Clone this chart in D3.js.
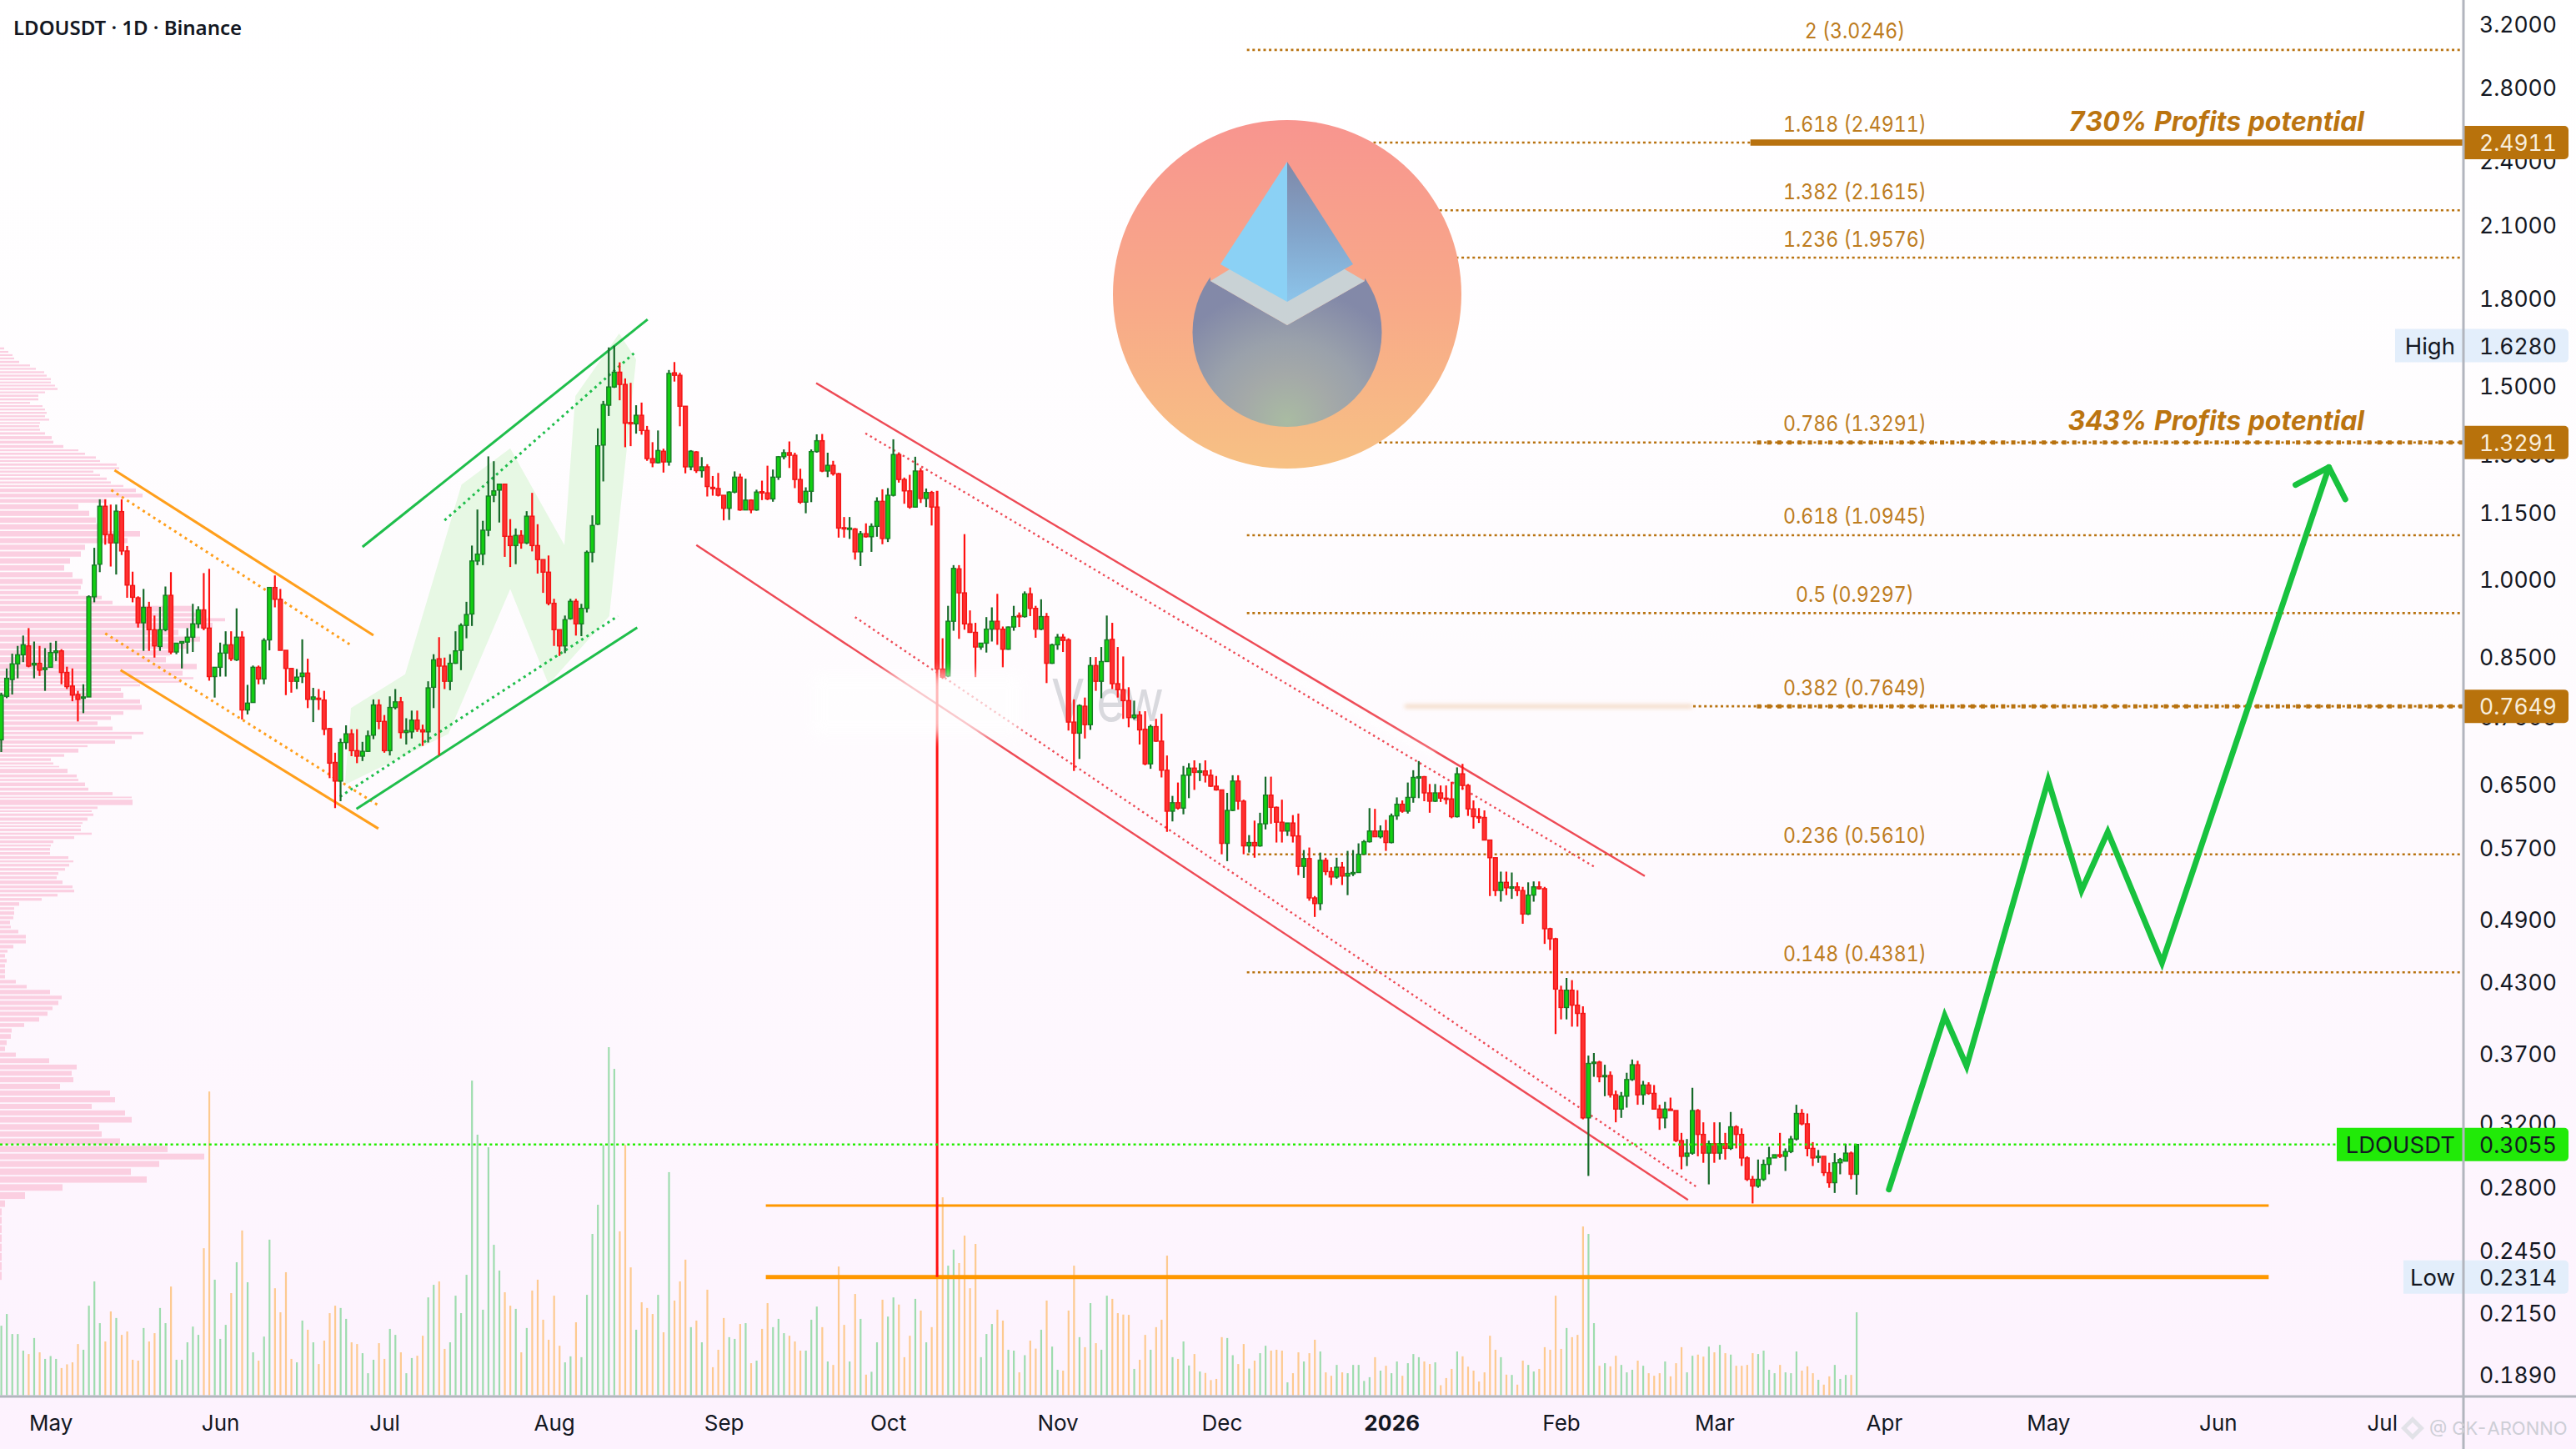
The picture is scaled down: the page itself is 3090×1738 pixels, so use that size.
<!DOCTYPE html>
<html><head><meta charset="utf-8">
<script src="https://cdn.jsdelivr.net/npm/d3@7"></script>
<style>html,body{margin:0;padding:0;background:#fff}svg{display:block}text{font-family:Inter,Roboto,sans-serif;font-variant-numeric:tabular-nums}</style>
</head><body><div id="chart"></div>
<script>
const symbolTitle = "LDOUSDT · 1D · Binance";
const firstDay = new Date(2025,3,22);
const opens = [.713,.781,.809,.836,.852,.868,.834,.837,.826,.830,
.856,.859,.821,.798,.784,.778,.780,.962,1.030,1.163,
1.096,1.077,1.150,1.059,.985,.960,.911,.941,.898,.867,
.898,.965,.857,.873,.875,.884,.909,.936,.901,.814,
.830,.855,.870,.843,.884,.759,.771,.830,.810,.879,
.981,.957,.860,.828,.806,.814,.820,.776,.778,.775,
.730,.680,.654,.709,.722,.697,.689,.696,.720,.767,
.741,.697,.763,.772,.724,.725,.743,.728,.725,.796,
.845,.832,.806,.837,.860,.906,.928,1.037,1.052,1.106,
1.190,1.203,1.218,1.092,1.071,1.094,1.077,1.139,1.071,1.040,
1.013,.949,.898,.868,.919,.953,.909,.939,1.056,1.120,
1.322,1.437,1.493,1.540,1.501,1.386,1.382,1.407,1.363,1.285,
1.274,1.305,1.276,1.538,1.530,1.434,1.263,1.303,1.253,1.263,
1.210,1.207,1.190,1.158,1.198,1.236,1.154,1.178,1.154,1.199,
1.196,1.181,1.236,1.290,1.301,1.294,1.230,1.173,1.200,1.304,
1.334,1.252,1.267,1.245,1.112,1.109,1.109,1.057,1.098,1.091,
1.115,1.175,1.087,1.190,1.296,1.230,1.201,1.161,1.252,1.182,
1.197,1.161,.827,.815,.914,1.020,.970,.909,.893,.866,
.873,.899,.914,.899,.862,.903,.925,.923,.968,.939,
.899,.923,.837,.870,.884,.879,.740,.723,.765,.736,
.833,.806,.840,.880,.802,.792,.774,.747,.751,.729,
.678,.733,.711,.669,.614,.625,.618,.662,.672,.666,
.668,.662,.647,.642,.574,.615,.654,.627,.571,.575,
.571,.598,.635,.619,.600,.589,.599,.583,.547,.556,
.512,.506,.554,.541,.535,.546,.536,.540,.540,.561,
.576,.589,.582,.589,.575,.608,.623,.614,.632,.659,
.660,.638,.627,.638,.631,.630,.607,.664,.648,.617,
.607,.606,.578,.557,.520,.529,.523,.524,.520,.495,
.515,.524,.522,.480,.470,.422,.407,.422,.409,.402,
.323,.362,.363,.352,.353,.339,.329,.338,.350,.361,
.339,.346,.340,.329,.323,.329,.328,.308,.298,.300,
.328,.312,.300,.306,.300,.306,.303,.317,.312,.297,
.284,.280,.284,.293,.297,.299,.298,.301,.309,.326,
.319,.303,.298,.298,.288,.282,.294,.295,.300,.287];
const highs = [.787,.828,.854,.868,.887,.901,.876,.868,.864,.874,
.877,.862,.831,.828,.790,.801,.965,1.066,1.180,1.180,
1.167,1.167,1.180,1.070,1.014,.963,.978,.952,.925,.942,
.983,1.013,.873,.876,.901,.948,.943,1.011,1.020,.830,
.874,.895,.895,.939,.895,.800,.833,.833,.882,.981,
1.006,.978,.860,.828,.827,.880,.845,.795,.793,.790,
.731,.694,.715,.735,.729,.729,.710,.727,.776,.776,
.751,.781,.793,.780,.746,.758,.758,.736,.806,.853,
.884,.847,.853,.895,.910,.952,1.071,1.155,1.128,1.291,
1.278,1.219,1.219,1.132,1.110,1.106,1.151,1.196,1.120,1.040,
1.049,.958,.898,.925,.958,.958,.948,1.060,1.141,1.369,
1.450,1.622,1.628,1.572,1.520,1.506,1.437,1.445,1.376,1.330,
1.363,1.312,1.547,1.573,1.538,1.434,1.308,1.305,1.289,1.270,
1.239,1.247,1.190,1.200,1.251,1.245,1.232,1.180,1.204,1.227,
1.266,1.256,1.292,1.310,1.332,1.301,1.258,1.210,1.310,1.352,
1.353,1.301,1.279,1.247,1.137,1.137,1.111,1.104,1.122,1.122,
1.185,1.205,1.208,1.338,1.299,1.235,1.242,1.290,1.260,1.207,
1.201,1.201,.882,.944,1.028,1.028,1.097,.935,.911,.873,
.922,.941,.968,.904,.904,.944,.931,.973,.981,.944,
.957,.930,.872,.890,.890,.882,.776,.768,.779,.848,
.848,.866,.925,.911,.866,.849,.796,.774,.757,.757,
.736,.745,.753,.690,.634,.652,.675,.679,.683,.679,
.683,.670,.661,.642,.638,.662,.662,.629,.584,.602,
.612,.660,.660,.620,.629,.599,.609,.611,.566,.569,
.514,.563,.557,.546,.557,.552,.565,.566,.574,.578,
.618,.617,.596,.603,.611,.632,.628,.652,.669,.682,
.661,.650,.650,.648,.648,.653,.673,.678,.650,.628,
.618,.615,.578,.557,.541,.541,.540,.529,.524,.529,
.530,.530,.524,.481,.471,.426,.433,.431,.422,.408,
.368,.370,.364,.361,.356,.342,.341,.355,.365,.364,
.349,.348,.346,.332,.334,.337,.328,.313,.309,.344,
.329,.320,.308,.320,.320,.313,.327,.318,.316,.298,
.286,.296,.296,.304,.299,.313,.303,.311,.332,.329,
.326,.307,.302,.298,.294,.300,.297,.306,.301,.3055];
const lows = [.695,.778,.784,.811,.839,.830,.811,.815,.790,.830,
.841,.801,.793,.773,.741,.754,.780,.951,1.013,1.073,
1.025,1.008,1.050,.960,.951,.902,.859,.859,.847,.859,
.895,.853,.853,.828,.854,.857,.901,.897,.807,.779,
.814,.814,.841,.841,.744,.752,.771,.801,.801,.860,
.941,.860,.783,.787,.793,.803,.762,.740,.759,.720,
.658,.618,.627,.699,.689,.679,.682,.695,.714,.729,
.694,.690,.760,.715,.706,.715,.725,.704,.709,.762,
.690,.793,.791,.836,.825,.882,.905,1.028,1.028,1.092,
1.173,1.124,1.046,1.024,1.030,1.064,1.074,1.058,1.010,.970,
.945,.868,.850,.855,.917,.887,.886,.931,1.034,1.118,
1.225,1.405,1.490,1.452,1.316,1.319,1.354,1.351,1.279,1.262,
1.272,1.248,1.266,1.510,1.375,1.246,1.254,1.247,1.235,1.187,
1.189,1.187,1.129,1.130,1.195,1.152,1.154,1.146,1.152,1.178,
1.178,1.174,1.229,1.283,1.260,1.208,1.169,1.146,1.173,1.301,
1.249,1.236,1.240,1.089,1.089,1.086,1.040,1.026,1.089,1.057,
1.091,1.074,1.079,1.187,1.222,1.169,1.157,1.160,1.171,1.161,
1.117,.2314,.810,.813,.896,.881,.898,.892,.813,.861,
.856,.876,.870,.830,.861,.896,.903,.921,.924,.883,
.897,.803,.836,.861,.857,.727,.668,.685,.715,.728,
.790,.778,.840,.793,.779,.745,.732,.744,.706,.676,
.671,.710,.659,.588,.601,.616,.610,.631,.642,.654,
.652,.646,.641,.561,.553,.614,.616,.561,.563,.557,
.570,.591,.598,.575,.575,.583,.575,.537,.534,.509,
.492,.499,.537,.526,.533,.526,.515,.536,.540,.561,
.575,.582,.580,.565,.574,.603,.612,.611,.625,.631,
.627,.612,.626,.626,.623,.605,.606,.642,.608,.592,
.599,.578,.514,.514,.508,.515,.511,.514,.485,.494,
.508,.521,.465,.459,.385,.397,.397,.391,.391,.322,
.286,.352,.348,.338,.337,.320,.323,.330,.349,.332,
.332,.339,.329,.315,.316,.328,.307,.290,.292,.299,
.298,.294,.281,.294,.296,.296,.302,.303,.292,.283,
.270,.279,.283,.287,.297,.297,.289,.300,.308,.318,
.298,.292,.294,.286,.279,.276,.287,.295,.284,.275];
const closes = [.783,.811,.836,.852,.870,.832,.837,.825,.829,.856,
.859,.821,.797,.783,.776,.780,.962,1.028,1.163,1.096,
1.077,1.151,1.059,.986,.961,.911,.941,.898,.868,.898,
.965,.857,.873,.876,.884,.909,.936,.901,.814,.830,
.855,.870,.845,.884,.759,.770,.830,.810,.878,.981,
.957,.860,.828,.806,.813,.820,.776,.780,.776,.729,
.679,.654,.709,.722,.697,.689,.696,.719,.767,.741,
.697,.763,.772,.724,.727,.743,.729,.725,.795,.843,
.832,.806,.837,.859,.906,.927,1.037,1.052,1.106,1.188,
1.201,1.218,1.092,1.071,1.094,1.077,1.139,1.071,1.040,1.013,
.949,.898,.868,.917,.953,.909,.939,1.056,1.117,1.320,
1.439,1.493,1.540,1.501,1.384,1.382,1.407,1.363,1.285,1.274,
1.307,1.276,1.536,1.530,1.434,1.263,1.305,1.253,1.263,1.212,
1.207,1.190,1.158,1.198,1.236,1.154,1.178,1.154,1.198,1.196,
1.181,1.236,1.290,1.301,1.294,1.230,1.173,1.200,1.304,1.334,
1.252,1.267,1.245,1.111,1.110,1.111,1.057,1.098,1.091,1.115,
1.175,1.087,1.190,1.296,1.230,1.201,1.161,1.252,1.182,1.197,
1.161,.827,.813,.914,1.021,.970,.909,.893,.866,.873,
.899,.914,.899,.862,.903,.923,.923,.968,.939,.899,
.923,.837,.870,.884,.878,.740,.723,.766,.736,.833,
.806,.840,.879,.802,.792,.774,.747,.751,.728,.678,
.733,.711,.669,.614,.625,.618,.662,.672,.666,.668,
.662,.647,.642,.574,.615,.654,.627,.571,.575,.571,
.598,.635,.619,.600,.589,.599,.583,.547,.556,.512,
.506,.554,.541,.535,.546,.536,.539,.540,.561,.576,
.589,.582,.589,.575,.608,.623,.614,.632,.659,.660,
.638,.627,.638,.631,.630,.607,.664,.648,.617,.607,
.606,.578,.557,.520,.529,.523,.524,.520,.495,.515,
.524,.522,.480,.470,.423,.407,.422,.409,.402,.323,
.362,.363,.352,.353,.339,.329,.338,.350,.361,.339,
.346,.340,.329,.323,.329,.328,.308,.298,.300,.328,
.312,.300,.306,.300,.306,.303,.317,.312,.297,.284,
.280,.284,.293,.297,.299,.298,.301,.309,.326,.319,
.303,.297,.298,.288,.282,.294,.296,.300,.287,.3055];
const volumes = [24.3,28.4,21.4,21.4,15.6,14.4,20,15,12.7,13.7,
12.7,9.5,10.8,11.5,17.9,15.9,31.3,39.8,25.2,18.8,
29.3,27,21.1,22.3,12.4,12.1,23.5,18.8,21.7,30.5,
25.2,38,12.4,12.4,18.5,24,21.1,51.4,106.2,40.4,
19.7,24.6,35.7,46.5,57.6,39.5,15,12.1,20.5,54.4,
37.4,29,43,12.7,11.5,26.1,22.9,18.5,10.9,19.1,
28.7,31.3,30.5,26.7,18.5,17.9,14.7,7.7,12.4,18.2,
12.7,23.2,21.1,15,7.7,13,13.8,20.8,34.2,38.6,
39.8,16.2,18.5,34.8,28.7,42.1,110,91.1,29.9,86.7,
52.6,43.6,36,31.3,30.2,15,23.5,36.6,40.4,26.4,
19.4,34.8,17.3,11.5,13.6,25.5,13.3,35.1,56.4,66.6,
87.5,121.7,114.1,57.3,87.5,44.7,22.9,32.5,30.5,28.4,
35.1,22,78,33.1,39.8,47.4,23.8,26.1,18.5,36.9,
9.8,15.9,27,20.3,19.7,24.9,25.2,11.2,12.1,23.2,
32.2,23.8,26.7,21.7,20.8,18.8,15.6,15.6,26.4,31,
23.8,11.8,10.6,45,24.6,11.8,35.4,26.7,7.2,8.2,
18.5,33.4,27.5,34.2,31.7,13.3,20.8,33.7,29.6,18.5,
23.8,45,69.2,45.3,50.9,46.2,55.8,37.4,52.9,13.3,
21.4,24.9,29.9,26.1,15.9,15.6,8,14,19.1,16.3,
22.9,33.1,17,8.9,8.6,29.6,45.3,20.3,16.8,32.2,
18.2,15.9,34.8,33.7,28.7,28.2,28.1,9.2,12.4,21.1,
15.9,23.8,26.4,48.8,13.3,12.7,18.8,10.4,14.4,8.3,
7.8,5.3,5.7,20.3,20,14,10.9,17.9,9.3,12.1,
14.7,17.3,15.6,15.9,15.6,4.5,7.7,15,11.8,14.7,
19.4,15.3,8,6.8,10.6,8,7.7,10.6,10.6,5,
6.3,13.3,8.6,10.3,7.7,11.8,6.8,11.2,14.4,13.3,
11.8,10.9,11.5,3.5,6,9.2,15.3,13.6,10,8.6,
4.8,8,20.8,15.9,13.3,7.2,7.1,3.7,12.1,10.6,
8.3,9.2,16.8,15.9,34.8,16.2,23.5,20.3,21.1,59,
56.4,25.2,10.3,11.2,10.1,13.8,10.6,8,8.9,12.1,
10.3,7.7,6.8,7.7,11.8,6.6,11.2,16.8,8,13.8,
14.2,13.5,17,15,17.6,14.7,14.2,10.3,10.3,10.6,
14.7,14.4,15.6,8.9,7.7,10.6,8,7.7,15.3,8.6,
10.1,7.7,5.4,3.7,6.6,10.6,5.7,7.1,7.1,29];
const profilePrices = [1.622,1.610,1.599,1.588,1.577,1.565,1.554,1.543,1.532,1.521,1.510,1.500,1.490,1.479,1.469,1.458,1.447,1.437,1.427,1.417,1.407,1.397,1.387,1.378,1.368,1.358,1.347,1.334,1.322,1.310,1.301,1.291,1.281,1.272,1.262,1.253,1.244,1.235,1.225,1.216,1.207,1.194,1.181,1.168,1.152,1.136,1.120,1.104,1.088,1.073,1.058,1.043,1.028,1.013,.999,.985,.974,.964,.954,.944,.930,.920,.911,.898,.885,.873,.860,.848,.836,.824,.813,.807,.801,.795,.787,.776,.767,.757,.749,.741,.733,.725,.719,.712,.705,.700,.692,.686,.680,.675,.671,.663,.657,.652,.645,.639,.633,.629,.620,.615,.611,.606,.600,.596,.592,.587,
.5826,.5775,.5725,.5685,.5636,.5587,.5538,.5499,.5451,.5404,.5357,.5310,.5255,.5209,.5164,.5119,.5074,.5021,.4978,.4926,.4882,.4830,.4789,.4739,.4689,.4640,.4592,.4552,.4505,.4458,.4411,.4358,.4312,.4267,.4223,.4172,.4128,.4078,.4035,.3987,.3939,.3895,.3850,.3800,.3750,.3703,.3659,.3611,.3564,.3517,.3469,.3420,.3373,.3326,.3281,.3236,.3188,.3140,.3094,.3046,.2997,.2951,.2905,.2857,.2811,.2764,.2717,.2672,.2625,.2580,.2530,.2482,.2434,.2387,.2340];
const profileVolumes = [5,10,15,17,23,36,43,53,56,61,61,66,69,54,46,46,36,51,54,56,54,59,48,47,48,54,62,64,76,94,102,115,120,140,143,112,120,128,133,148,163,171,128,94,107,115,122,168,153,102,97,84,77,87,99,97,94,122,135,230,245,270,255,214,240,224,204,199,236,219,232,217,168,145,148,168,170,148,133,117,135,172,158,138,105,94,77,61,64,71,81,92,94,102,106,135,158,159,117,110,112,105,99,97,97,110,
89,64,61,60,60,82,88,83,78,70,68,75,87,89,69,50,23,17,17,16,12,13,22,31,31,16,9,6,8,6,6,6,19,32,60,74,70,63,57,47,29,14,13,8,6,19,59,92,86,88,72,132,138,110,150,158,119,122,144,201,245,191,157,176,75,30,6,2,2,2,2,2,2,2,2];
const priceTicks = [3.2,2.8,2.4,2.1,1.8,1.5,1.3,1.15,1,.85,.75,.65,.57,.49,.43,.37,.32,.28,.245,.215,.189];
const monthTicks = [[2025,4],[2025,5],[2025,6],[2025,7],[2025,8],[2025,9],[2025,10],[2025,11],[2026,0],[2026,1],[2026,2],[2026,3],[2026,4],[2026,5],[2026,6]];
const fibRatios = ["2","1.618","1.382","1.236","0.786","0.618","0.5","0.382","0.236","0.148"];
const fibPrices = [3.0246,2.4911,2.1615,1.9576,1.3291,1.0945,.9297,.7649,.5610,.4381];
const fibStartDay = 227.6, heavyStartDay = 320.8, solidStartDay = 319.6;
const lastPrice = .3055, highPrice = 1.6280, lowPrice = .2314;
const tagFibs = [2.4911,1.3291,.7649];
const profitNotes = [["730% Profits potential",2.4911],["343% Profits potential",1.3291]];
const supports = [[.2688,3],[.2314,5]];
const supportDays = [139.7,414.3];
const orangeChannel = [[[21,1.254],[68.3,.8876]],[[22.1,.825],[69.2,.592]]];
const orangeDotted  = [[[20.4,1.203],[64.4,.868]],[[19.3,.891],[69.1,.622]]];
const greenChannel  = [[[66.3,1.068],[118.4,1.720]],[[65.2,.617],[116.5,.902]]];
const greenDotted   = [[[81.3,1.129],[115.9,1.602]],[[62.2,.633],[113,.924]]];
const redChannel    = [[[149.2,1.505],[300.6,.536]],[[127.3,1.072],[308.5,.272]]];
const redDotted     = [[[158.2,1.355],[291.5,.546]],[[156.3,.922],[310.3,.279]]];
const greenZone = [[64.2,.762],[74.1,.818],[84.4,1.217],[93.3,1.313],[103.2,1.072],[105.2,1.465],[113.2,1.670],[116.3,1.582],[111.4,.924],[100.3,.801],[93.3,.978],[82,.722],[63.1,.649]];
const forecastPath = [[344.9,.278],[355.1,.400],[359.1,.360],[374,.655],[380.1,.520],[384.9,.588],[394.8,.447],[425.3,1.262]];
const forecastHead = [[419.2,1.216],[425.3,1.262],[428.3,1.180]];

const W=3090,H=1738,plotR=2955,plotB=1675;
const x=d3.scaleTime().domain([firstDay,new Date(2026,6,1)]).range([1.5,1.5+435*6.565]);
const xi=i=>x(firstDay)+i*6.565;
const xa=i=>xi(i-0.3);
const y=d3.scaleLog().domain([.1802,3.358]).range([plotB,0]);
const yV=d3.scaleLinear().domain([0,121.7]).range([1673.5,1256]);
const xP=d3.scaleLinear().domain([0,245]).range([0,245]);
const svg=d3.select("#chart").append("svg").attr("width",W).attr("height",H).attr("viewBox",`0 0 ${W} ${H}`);
const defs=svg.append("defs");
const lg=(id,stops,user)=>{const g=defs.append("linearGradient").attr("id",id);
  if(user) g.attr("gradientUnits","userSpaceOnUse").attr("x1",0).attr("x2",0).attr("y1",user[0]).attr("y2",user[1]);
  else g.attr("x1",0).attr("y1",0).attr("x2",0).attr("y2",1);
  stops.forEach(s=>g.append("stop").attr("offset",s[0]).attr("stop-color",s[1]));};
lg("bg",[[0,"#ffffff"],[.5,"#fefbfe"],[1,"#fdf2fe"]]);
lg("disc",[[0,"#f8958f"],[.55,"#f8aa88"],[1,"#f7c184"]],[144,562]);
lg("facet",[[0,"#7f88a8"],[.5,"#82a4ca"],[1,"#8cc4ea"]]);
const rg=defs.append("radialGradient").attr("id","drop").attr("gradientUnits","userSpaceOnUse").attr("cx",1544).attr("cy",505).attr("r",160);
[[0,"#a9bba2"],[.35,"#a4a9a8"],[.6,"#9aa1ab"],[1,"#8389a8"]].forEach(s=>rg.append("stop").attr("offset",s[0]).attr("stop-color",s[1]));
defs.append("filter").attr("id","blur8").attr("x","-30%").attr("y","-60%").attr("width","160%").attr("height","220%").append("feGaussianBlur").attr("stdDeviation",8);
defs.append("filter").attr("id","blur2").attr("filterUnits","userSpaceOnUse").attr("x",0).attr("y",0).attr("width",W).attr("height",H).append("feGaussianBlur").attr("stdDeviation",2.5);
defs.append("clipPath").attr("id","plot").append("rect").attr("width",plotR).attr("height",plotB);

svg.append("rect").attr("width",W).attr("height",H).attr("fill","url(#bg)");
const plot=svg.append("g").attr("clip-path","url(#plot)");

// volume profile
plot.append("g").selectAll("rect").data(profilePrices).join("rect")
 .attr("x",0).attr("width",(d,i)=>xP(profileVolumes[i]))
 .attr("y",(d,i)=>y(d))
 .attr("height",(d,i)=>{const n=profilePrices[i+1]||d*.98;return Math.max(1.5,(y(n)-y(d))-1.8);})
 .attr("fill","#fbcfe1");

// faint watermark
plot.append("text").attr("x",1261).attr("y",865).attr("font-size",70).attr("textLength",135).attr("lengthAdjust","spacingAndGlyphs").attr("fill","#d9d9de").text("View");

// volumes
const days=d3.range(opens.length);
plot.append("g").selectAll("rect").data(days).join("rect")
 .attr("x",i=>xi(i)-1).attr("width",2.2)
 .attr("y",i=>yV(volumes[i])).attr("height",i=>yV(0)-yV(volumes[i]))
 .attr("fill",i=>closes[i]>=opens[i]?"#9edcae":"#fdca90");

const ln=(g,pts,color,w,dash)=>g.append("line").attr("x1",xa(pts[0][0])).attr("y1",y(pts[0][1])).attr("x2",xa(pts[1][0])).attr("y2",y(pts[1][1])).attr("stroke",color).attr("stroke-width",w).attr("stroke-dasharray",dash||null);

// green zone
plot.append("path").attr("d",d3.line().x(d=>xa(d[0])).y(d=>y(d[1]))(greenZone)+"Z").attr("fill","#e7f8e4");

// fib lines
const FIB="#b8720f";
const fibG=plot.append("g");
fibPrices.forEach((p,i)=>{
  const yy=y(p);
  const x0=(p===.7649)?2031:xi(fibStartDay);
  fibG.append("line").attr("x1",x0).attr("x2",plotR).attr("y1",yy).attr("y2",yy).attr("stroke",FIB).attr("stroke-width",2.6).attr("stroke-dasharray","3 3.6");
  if(p===2.4911) fibG.append("line").attr("x1",xi(solidStartDay)).attr("x2",plotR).attr("y1",yy).attr("y2",yy).attr("stroke",FIB).attr("stroke-width",7.5);
  if(p===1.3291||p===.7649) fibG.append("line").attr("x1",xi(heavyStartDay)).attr("x2",plotR).attr("y1",yy).attr("y2",yy).attr("stroke",FIB).attr("stroke-width",5).attr("stroke-dasharray","5 7.2");
  const lab=fibG.append("text").attr("x",2225).attr("y",yy-23).attr("text-anchor","middle").attr("dominant-baseline","central").attr("font-size",26).attr("fill","#bd7c20").text(`${fibRatios[i]} (${p.toFixed(4)})`);
  lab.attr("textLength",lab.node().getComputedTextLength()*.89).attr("lengthAdjust","spacingAndGlyphs");
});
// smeared part of the .382 line
plot.append("line").attr("x1",1685).attr("x2",2030).attr("y1",y(.7649)).attr("y2",y(.7649)).attr("stroke","#e6ae78").attr("stroke-width",4).attr("opacity",.5).attr("filter","url(#blur2)");

// logo
const logo=svg.append("g");
logo.append("circle").attr("cx",1544).attr("cy",353).attr("r",209).attr("fill","url(#disc)");
logo.append("circle").attr("cx",1544).attr("cy",398.5).attr("r",113.5).attr("fill","url(#drop)");
logo.append("path").attr("d","M1452,337L1544,390L1637,337L1640,275L1448,275Z").attr("fill","url(#disc)");
logo.append("path").attr("d","M1452,337L1544,390L1637,337L1613,323L1475,323Z").attr("fill","#c9d2d5");
logo.append("path").attr("d","M1544,194L1464,317L1544,362Z").attr("fill","#8bd1f5");
logo.append("path").attr("d","M1544,194L1623,317L1544,362Z").attr("fill","url(#facet)");

// supports
supports.forEach(s=>plot.append("line").attr("x1",xi(supportDays[0])).attr("x2",xi(supportDays[1])).attr("y1",y(s[0])).attr("y2",y(s[0])).attr("stroke","#ff9800").attr("stroke-width",s[1]));

// channels
orangeChannel.forEach(l=>ln(plot,l,"#ff9f1c",3));
orangeDotted.forEach(l=>ln(plot,l,"#ff9f1c",3,"3 4.5"));
greenChannel.forEach(l=>ln(plot,l,"#1fbe4b",3));
greenDotted.forEach(l=>ln(plot,l,"#1fbe4b",3,"3 4.5"));
redChannel.forEach(l=>ln(plot,l,"#ee4a55",2.4));
redDotted.forEach(l=>ln(plot,l,"#ee4a55",2.4,"2.5 4"));

// candles
const candle=plot.append("g");
candle.selectAll("line").data(days).join("line")
 .attr("x1",i=>xi(i)).attr("x2",i=>xi(i)).attr("y1",i=>y(highs[i])).attr("y2",i=>y(lows[i]))
 .attr("stroke",i=>closes[i]>=opens[i]?"#176a2a":"#ff1010").attr("stroke-width",i=>lows[i]===lowPrice?3:2.2);
candle.selectAll("rect").data(days).join("rect")
 .attr("x",i=>xi(i)-2.4).attr("width",4.8)
 .attr("y",i=>y(Math.max(opens[i],closes[i])))
 .attr("height",i=>Math.max(1.6,y(Math.min(opens[i],closes[i]))-y(Math.max(opens[i],closes[i]))))
 .attr("fill",i=>closes[i]>=opens[i]?"#12cf12":"#ff3030")
 .attr("stroke",i=>closes[i]>=opens[i]?"#167d24":"#f21414").attr("stroke-width",1.4);

// price line
plot.append("line").attr("x1",0).attr("x2",2805).attr("y1",y(lastPrice)).attr("y2",y(lastPrice)).attr("stroke","#22ee00").attr("stroke-width",2.4).attr("stroke-dasharray","3 3.6");

// smeared patches
plot.append("rect").attr("x",975).attr("y",808).attr("width",250).attr("height",75).attr("fill","#fff").attr("opacity",.7).attr("filter","url(#blur8)");
plot.append("line").attr("x1",1550).attr("y1",812).attr("x2",1720).attr("y2",906).attr("stroke","#fff").attr("stroke-width",8).attr("opacity",.55).attr("filter","url(#blur2)");

// forecast arrow
const fl=d3.line().x(d=>xi(d[0])).y(d=>y(d[1]));
plot.append("path").attr("d",fl(forecastPath)).attr("fill","none").attr("stroke","#18c23e").attr("stroke-width",7).attr("stroke-linejoin","miter").attr("stroke-linecap","round");
plot.append("path").attr("d",fl(forecastHead)).attr("fill","none").attr("stroke","#18c23e").attr("stroke-width",7).attr("stroke-linejoin","round").attr("stroke-linecap","round");

// notes
profitNotes.forEach(n=>svg.append("text").attr("x",2836).attr("y",y(n[1])-26).attr("text-anchor","end").attr("dominant-baseline","central").attr("font-size",32).attr("font-weight",700).attr("font-style","italic").attr("fill","#bb7410").text(n[0]));

// title
svg.append("text").attr("x",16).attr("y",32).attr("dominant-baseline","central").attr("style","font-family:'Noto Sans',sans-serif").attr("font-size",24).attr("font-weight",600).attr("fill","#131722").text(symbolTitle);

// price axis
const yAxis=svg.append("g").attr("transform",`translate(${plotR},0)`).call(d3.axisRight(y).tickValues(priceTicks).tickFormat(d3.format(".4f")).tickSize(0));
yAxis.select(".domain").remove();
yAxis.selectAll("text").attr("x",112).attr("dy","0.4em").attr("text-anchor","end").attr("font-size",26.5).attr("fill","#131722").attr("font-family",null);

// x axis
const monthDates=monthTicks.map(m=>new Date(m[0],m[1],1));
const xAxis=svg.append("g").attr("transform",`translate(0,${plotB})`).call(d3.axisBottom(x).tickValues(monthDates).tickFormat(d=>d.getMonth()===0?d3.timeFormat("%Y")(d):d3.timeFormat("%b")(d)).tickSize(0));
xAxis.select(".domain").remove();
xAxis.selectAll("text").attr("y",31).attr("dy",0).attr("dominant-baseline","central").attr("font-size",26).attr("fill","#131722").attr("font-family",null).attr("font-weight",d=>d.getMonth()===0?700:400);

// tags
const tag=(x0,x1,py,fill,txt,col,label)=>{
  const yy=y(py),p=d3.path(),r=5,t=yy-20,b=yy+20;
  p.moveTo(x0,t);p.lineTo(x1-r,t);p.arcTo(x1,t,x1,t+r,r);p.lineTo(x1,b-r);p.arcTo(x1,b,x1-r,b,r);p.lineTo(x0,b);p.closePath();
  svg.append("path").attr("d",p.toString()).attr("fill",fill);
  svg.append("text").attr("x",3067).attr("y",yy).attr("text-anchor","end").attr("dominant-baseline","central").attr("font-size",26.5).attr("fill",col).text(txt);
  if(label) svg.append("text").attr("x",2945).attr("y",yy).attr("text-anchor","end").attr("dominant-baseline","central").attr("font-size",27.5).attr("fill",col).text(label);
};
tagFibs.forEach(p=>tag(2956,3081,p,"#b8720c",p.toFixed(4),"#f8eedd"));
tag(2873,3081,highPrice,"#e3eefb",highPrice.toFixed(4),"#131722","High");
tag(2883,3081,lowPrice,"#e3eefb",lowPrice.toFixed(4),"#131722","Low");
tag(2803,3081,lastPrice,"#21ea08",lastPrice.toFixed(4),"#131722","LDOUSDT");

// axis rules
svg.append("line").attr("x1",plotR).attr("x2",plotR).attr("y1",0).attr("y2",H).attr("stroke","#b2b5be").attr("stroke-width",3);
svg.append("line").attr("x1",0).attr("x2",W).attr("y1",plotB).attr("y2",plotB).attr("stroke","#b2b5be").attr("stroke-width",3);

// author mark
svg.append("path").attr("d","M2894,1699L2908,1713L2894,1727L2880,1713Z M2894,1706L2901,1713L2894,1720L2887,1713Z").attr("fill","#e2e2e8").attr("fill-rule","evenodd");
svg.append("text").attr("x",2914).attr("y",1713).attr("dominant-baseline","central").attr("font-size",22).attr("fill","#cdced6").text("@ GK-ARONNO");
</script></body></html>
